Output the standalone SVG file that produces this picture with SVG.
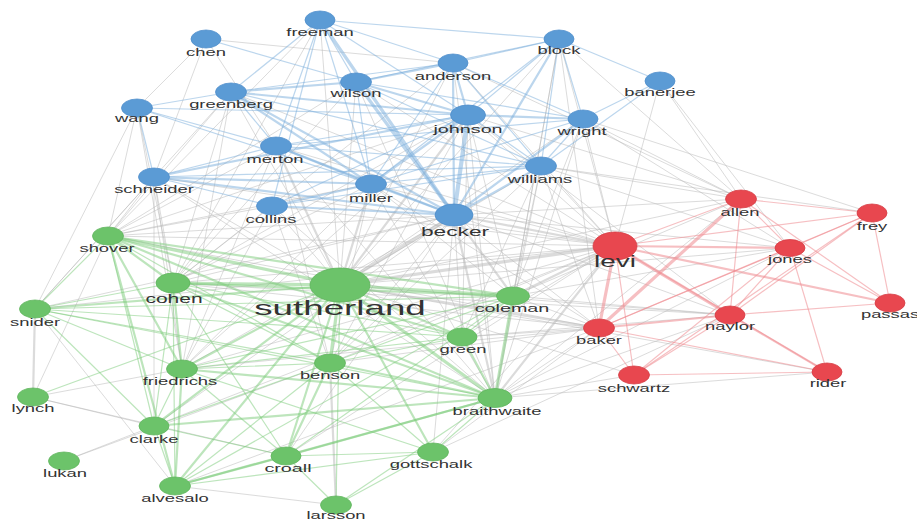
<svg xmlns="http://www.w3.org/2000/svg" width="917" height="521" viewBox="0 0 917 521">
<style>
text{font-family:"Liberation Sans",Arial,sans-serif;font-size:10.5px;fill:#333;text-anchor:middle}
.t12{font-size:12px}.t11{font-size:11.3px}.t13{font-size:13px}.t16{font-size:16px}.t21{font-size:21px}
line{fill:none;stroke-linecap:round}
.x{stroke:#b8b8b8;stroke-opacity:.5;stroke-width:1}
.b{stroke:#7aaedc;stroke-opacity:.5;stroke-width:1.2}
.r{stroke:#ee8a90;stroke-opacity:.55;stroke-width:1.2}
.g{stroke:#7ccb79;stroke-opacity:.5;stroke-width:1.2}
.w2{stroke-width:2.2}.w3{stroke-width:3.2}.w4{stroke-width:4.2}
.nb{fill:#5b9bd5;stroke:#4f8ecb;stroke-width:.8}
.nr{fill:#e8474f;stroke:#d63c44;stroke-width:.8}
.ng{fill:#6cc36a;stroke:#5fb55d;stroke-width:.8}
</style>
<rect width="917" height="521" fill="#fff"/>
<g id="connectors">
<g id="gray">
<line class="x w3" x1="454" y1="215" x2="340" y2="285"/>
<line class="x" x1="454" y1="215" x2="173" y2="283"/>
<line class="x" x1="454" y1="215" x2="108" y2="236"/>
<line class="x w2" x1="454" y1="215" x2="495" y2="398"/>
<line class="x" x1="454" y1="215" x2="330" y2="363"/>
<line class="x w2" x1="454" y1="215" x2="513" y2="296"/>
<line class="x" x1="454" y1="215" x2="462" y2="337"/>
<line class="x" x1="454" y1="215" x2="182" y2="369"/>
<line class="x" x1="454" y1="215" x2="433" y2="452"/>
<line class="x" x1="454" y1="215" x2="35" y2="309"/>
<line class="x" x1="454" y1="215" x2="286" y2="456"/>
<line class="x" x1="454" y1="215" x2="154" y2="426"/>
<line class="x w2" x1="371" y1="184" x2="340" y2="285"/>
<line class="x" x1="371" y1="184" x2="173" y2="283"/>
<line class="x" x1="371" y1="184" x2="108" y2="236"/>
<line class="x" x1="371" y1="184" x2="495" y2="398"/>
<line class="x" x1="371" y1="184" x2="330" y2="363"/>
<line class="x" x1="371" y1="184" x2="182" y2="369"/>
<line class="x" x1="371" y1="184" x2="513" y2="296"/>
<line class="x w2" x1="276" y1="146" x2="340" y2="285"/>
<line class="x" x1="276" y1="146" x2="173" y2="283"/>
<line class="x" x1="276" y1="146" x2="108" y2="236"/>
<line class="x" x1="276" y1="146" x2="495" y2="398"/>
<line class="x" x1="276" y1="146" x2="182" y2="369"/>
<line class="x" x1="276" y1="146" x2="330" y2="363"/>
<line class="x w2" x1="468" y1="115" x2="340" y2="285"/>
<line class="x" x1="468" y1="115" x2="173" y2="283"/>
<line class="x" x1="468" y1="115" x2="108" y2="236"/>
<line class="x" x1="468" y1="115" x2="495" y2="398"/>
<line class="x" x1="468" y1="115" x2="330" y2="363"/>
<line class="x" x1="468" y1="115" x2="513" y2="296"/>
<line class="x" x1="468" y1="115" x2="462" y2="337"/>
<line class="x" x1="468" y1="115" x2="182" y2="369"/>
<line class="x" x1="154" y1="177" x2="108" y2="236"/>
<line class="x" x1="154" y1="177" x2="173" y2="283"/>
<line class="x" x1="154" y1="177" x2="340" y2="285"/>
<line class="x" x1="154" y1="177" x2="35" y2="309"/>
<line class="x" x1="154" y1="177" x2="182" y2="369"/>
<line class="x" x1="154" y1="177" x2="154" y2="426"/>
<line class="x" x1="154" y1="177" x2="495" y2="398"/>
<line class="x" x1="272" y1="206" x2="340" y2="285"/>
<line class="x" x1="272" y1="206" x2="173" y2="283"/>
<line class="x" x1="272" y1="206" x2="108" y2="236"/>
<line class="x" x1="272" y1="206" x2="330" y2="363"/>
<line class="x" x1="272" y1="206" x2="495" y2="398"/>
<line class="x" x1="272" y1="206" x2="182" y2="369"/>
<line class="x" x1="356" y1="82" x2="340" y2="285"/>
<line class="x" x1="356" y1="82" x2="173" y2="283"/>
<line class="x" x1="356" y1="82" x2="108" y2="236"/>
<line class="x" x1="356" y1="82" x2="495" y2="398"/>
<line class="x" x1="231" y1="92" x2="340" y2="285"/>
<line class="x" x1="231" y1="92" x2="108" y2="236"/>
<line class="x" x1="231" y1="92" x2="173" y2="283"/>
<line class="x" x1="231" y1="92" x2="182" y2="369"/>
<line class="x" x1="231" y1="92" x2="35" y2="309"/>
<line class="x" x1="137" y1="108" x2="108" y2="236"/>
<line class="x" x1="137" y1="108" x2="35" y2="309"/>
<line class="x" x1="137" y1="108" x2="173" y2="283"/>
<line class="x" x1="137" y1="108" x2="182" y2="369"/>
<line class="x" x1="206" y1="39" x2="154" y2="177"/>
<line class="x" x1="206" y1="39" x2="276" y2="146"/>
<line class="x" x1="206" y1="39" x2="137" y2="108"/>
<line class="x" x1="206" y1="39" x2="453" y2="63"/>
<line class="x" x1="453" y1="63" x2="340" y2="285"/>
<line class="x" x1="453" y1="63" x2="173" y2="283"/>
<line class="x" x1="453" y1="63" x2="495" y2="398"/>
<line class="x" x1="541" y1="166" x2="340" y2="285"/>
<line class="x" x1="541" y1="166" x2="495" y2="398"/>
<line class="x" x1="541" y1="166" x2="513" y2="296"/>
<line class="x" x1="541" y1="166" x2="330" y2="363"/>
<line class="x" x1="541" y1="166" x2="462" y2="337"/>
<line class="x" x1="583" y1="119" x2="340" y2="285"/>
<line class="x" x1="583" y1="119" x2="495" y2="398"/>
<line class="x" x1="583" y1="119" x2="513" y2="296"/>
<line class="x" x1="559" y1="39" x2="340" y2="285"/>
<line class="x" x1="559" y1="39" x2="513" y2="296"/>
<line class="x" x1="559" y1="39" x2="495" y2="398"/>
<line class="x" x1="320" y1="20" x2="340" y2="285"/>
<line class="x" x1="320" y1="20" x2="173" y2="283"/>
<line class="x" x1="320" y1="20" x2="108" y2="236"/>
<line class="x w2" x1="454" y1="215" x2="615" y2="246"/>
<line class="x" x1="454" y1="215" x2="599" y2="328"/>
<line class="x" x1="454" y1="215" x2="730" y2="315"/>
<line class="x" x1="454" y1="215" x2="741" y2="199"/>
<line class="x" x1="454" y1="215" x2="790" y2="248"/>
<line class="x" x1="468" y1="115" x2="615" y2="246"/>
<line class="x" x1="468" y1="115" x2="741" y2="199"/>
<line class="x" x1="468" y1="115" x2="730" y2="315"/>
<line class="x" x1="541" y1="166" x2="615" y2="246"/>
<line class="x" x1="541" y1="166" x2="741" y2="199"/>
<line class="x" x1="541" y1="166" x2="790" y2="248"/>
<line class="x" x1="541" y1="166" x2="872" y2="213"/>
<line class="x" x1="541" y1="166" x2="599" y2="328"/>
<line class="x" x1="583" y1="119" x2="615" y2="246"/>
<line class="x" x1="583" y1="119" x2="741" y2="199"/>
<line class="x" x1="583" y1="119" x2="872" y2="213"/>
<line class="x" x1="583" y1="119" x2="790" y2="248"/>
<line class="x" x1="559" y1="39" x2="615" y2="246"/>
<line class="x" x1="559" y1="39" x2="741" y2="199"/>
<line class="x" x1="559" y1="39" x2="599" y2="328"/>
<line class="x" x1="660" y1="81" x2="741" y2="199"/>
<line class="x" x1="660" y1="81" x2="615" y2="246"/>
<line class="x" x1="660" y1="81" x2="790" y2="248"/>
<line class="x" x1="453" y1="63" x2="615" y2="246"/>
<line class="x" x1="453" y1="63" x2="741" y2="199"/>
<line class="x" x1="371" y1="184" x2="615" y2="246"/>
<line class="x" x1="371" y1="184" x2="599" y2="328"/>
<line class="x" x1="276" y1="146" x2="615" y2="246"/>
<line class="x" x1="356" y1="82" x2="615" y2="246"/>
<line class="x" x1="154" y1="177" x2="615" y2="246"/>
<line class="x" x1="272" y1="206" x2="615" y2="246"/>
<line class="x" x1="231" y1="92" x2="615" y2="246"/>
<line class="x w3" x1="340" y1="285" x2="615" y2="246"/>
<line class="x w2" x1="340" y1="285" x2="599" y2="328"/>
<line class="x" x1="340" y1="285" x2="730" y2="315"/>
<line class="x" x1="340" y1="285" x2="741" y2="199"/>
<line class="x" x1="340" y1="285" x2="790" y2="248"/>
<line class="x" x1="340" y1="285" x2="634" y2="375"/>
<line class="x" x1="340" y1="285" x2="827" y2="372"/>
<line class="x" x1="173" y1="283" x2="615" y2="246"/>
<line class="x" x1="173" y1="283" x2="599" y2="328"/>
<line class="x" x1="173" y1="283" x2="730" y2="315"/>
<line class="x w2" x1="513" y1="296" x2="615" y2="246"/>
<line class="x" x1="513" y1="296" x2="599" y2="328"/>
<line class="x" x1="513" y1="296" x2="730" y2="315"/>
<line class="x" x1="513" y1="296" x2="741" y2="199"/>
<line class="x" x1="513" y1="296" x2="790" y2="248"/>
<line class="x" x1="462" y1="337" x2="615" y2="246"/>
<line class="x" x1="462" y1="337" x2="599" y2="328"/>
<line class="x" x1="462" y1="337" x2="730" y2="315"/>
<line class="x w2" x1="495" y1="398" x2="615" y2="246"/>
<line class="x" x1="495" y1="398" x2="599" y2="328"/>
<line class="x" x1="495" y1="398" x2="730" y2="315"/>
<line class="x" x1="495" y1="398" x2="634" y2="375"/>
<line class="x" x1="495" y1="398" x2="741" y2="199"/>
<line class="x" x1="495" y1="398" x2="790" y2="248"/>
<line class="x" x1="495" y1="398" x2="827" y2="372"/>
<line class="x" x1="330" y1="363" x2="615" y2="246"/>
<line class="x" x1="330" y1="363" x2="599" y2="328"/>
<line class="x" x1="108" y1="236" x2="615" y2="246"/>
<line class="x" x1="108" y1="236" x2="599" y2="328"/>
<line class="x" x1="182" y1="369" x2="615" y2="246"/>
<line class="x" x1="182" y1="369" x2="599" y2="328"/>
<line class="x" x1="433" y1="452" x2="615" y2="246"/>
<line class="x" x1="433" y1="452" x2="599" y2="328"/>
<line class="x" x1="433" y1="452" x2="730" y2="315"/>
<line class="x" x1="286" y1="456" x2="615" y2="246"/>
<line class="x" x1="35" y1="309" x2="615" y2="246"/>
<line class="x" x1="154" y1="426" x2="615" y2="246"/>
<line class="x" x1="175" y1="486" x2="599" y2="328"/>
<line class="x w2" x1="35" y1="309" x2="33" y2="397"/>
<line class="x" x1="64" y1="461" x2="154" y2="426"/>
<line class="x" x1="64" y1="461" x2="330" y2="363"/>
<line class="x" x1="33" y1="397" x2="182" y2="369"/>
<line class="x" x1="33" y1="397" x2="154" y2="426"/>
<line class="x" x1="108" y1="236" x2="33" y2="397"/>
<line class="x" x1="35" y1="309" x2="175" y2="486"/>
<line class="x w2" x1="330" y1="363" x2="336" y2="505"/>
<line class="x" x1="175" y1="486" x2="336" y2="505"/>
<line class="x" x1="33" y1="397" x2="286" y2="456"/>
</g>
<g id="blue-links">
<line class="b" x1="320" y1="20" x2="559" y2="39"/>
<line class="b" x1="320" y1="20" x2="356" y2="82"/>
<line class="b w3" x1="320" y1="20" x2="454" y2="215"/>
<line class="b" x1="320" y1="20" x2="276" y2="146"/>
<line class="b" x1="320" y1="20" x2="272" y2="206"/>
<line class="b" x1="320" y1="20" x2="231" y2="92"/>
<line class="b" x1="320" y1="20" x2="453" y2="63"/>
<line class="b" x1="320" y1="20" x2="371" y2="184"/>
<line class="b" x1="320" y1="20" x2="468" y2="115"/>
<line class="b" x1="206" y1="39" x2="356" y2="82"/>
<line class="b w2" x1="356" y1="82" x2="453" y2="63"/>
<line class="b w2" x1="356" y1="82" x2="468" y2="115"/>
<line class="b w3" x1="356" y1="82" x2="454" y2="215"/>
<line class="b w2" x1="356" y1="82" x2="231" y2="92"/>
<line class="b" x1="356" y1="82" x2="559" y2="39"/>
<line class="b" x1="356" y1="82" x2="583" y2="119"/>
<line class="b" x1="356" y1="82" x2="541" y2="166"/>
<line class="b" x1="356" y1="82" x2="371" y2="184"/>
<line class="b w2" x1="453" y1="63" x2="468" y2="115"/>
<line class="b w2" x1="453" y1="63" x2="454" y2="215"/>
<line class="b" x1="453" y1="63" x2="559" y2="39"/>
<line class="b" x1="453" y1="63" x2="583" y2="119"/>
<line class="b" x1="453" y1="63" x2="541" y2="166"/>
<line class="b" x1="453" y1="63" x2="231" y2="92"/>
<line class="b" x1="453" y1="63" x2="371" y2="184"/>
<line class="b" x1="231" y1="92" x2="137" y2="108"/>
<line class="b w2" x1="231" y1="92" x2="468" y2="115"/>
<line class="b w2" x1="231" y1="92" x2="371" y2="184"/>
<line class="b w2" x1="231" y1="92" x2="454" y2="215"/>
<line class="b" x1="231" y1="92" x2="276" y2="146"/>
<line class="b" x1="231" y1="92" x2="541" y2="166"/>
<line class="b" x1="137" y1="108" x2="154" y2="177"/>
<line class="b" x1="137" y1="108" x2="371" y2="184"/>
<line class="b" x1="137" y1="108" x2="276" y2="146"/>
<line class="b" x1="137" y1="108" x2="468" y2="115"/>
<line class="b w4" x1="468" y1="115" x2="454" y2="215"/>
<line class="b w2" x1="468" y1="115" x2="583" y2="119"/>
<line class="b" x1="468" y1="115" x2="541" y2="166"/>
<line class="b w2" x1="468" y1="115" x2="371" y2="184"/>
<line class="b" x1="468" y1="115" x2="276" y2="146"/>
<line class="b w2" x1="468" y1="115" x2="154" y2="177"/>
<line class="b" x1="468" y1="115" x2="559" y2="39"/>
<line class="b" x1="468" y1="115" x2="272" y2="206"/>
<line class="b w2" x1="276" y1="146" x2="371" y2="184"/>
<line class="b w2" x1="276" y1="146" x2="454" y2="215"/>
<line class="b" x1="276" y1="146" x2="541" y2="166"/>
<line class="b" x1="276" y1="146" x2="154" y2="177"/>
<line class="b" x1="276" y1="146" x2="583" y2="119"/>
<line class="b w2" x1="154" y1="177" x2="371" y2="184"/>
<line class="b w2" x1="154" y1="177" x2="454" y2="215"/>
<line class="b" x1="154" y1="177" x2="541" y2="166"/>
<line class="b" x1="154" y1="177" x2="272" y2="206"/>
<line class="b w2" x1="371" y1="184" x2="454" y2="215"/>
<line class="b w2" x1="371" y1="184" x2="272" y2="206"/>
<line class="b" x1="371" y1="184" x2="541" y2="166"/>
<line class="b" x1="371" y1="184" x2="583" y2="119"/>
<line class="b w2" x1="272" y1="206" x2="454" y2="215"/>
<line class="b" x1="272" y1="206" x2="541" y2="166"/>
<line class="b w2" x1="559" y1="39" x2="454" y2="215"/>
<line class="b" x1="559" y1="39" x2="541" y2="166"/>
<line class="b" x1="559" y1="39" x2="583" y2="119"/>
<line class="b" x1="559" y1="39" x2="660" y2="81"/>
<line class="b" x1="559" y1="39" x2="371" y2="184"/>
<line class="b w2" x1="583" y1="119" x2="454" y2="215"/>
<line class="b" x1="583" y1="119" x2="541" y2="166"/>
<line class="b" x1="583" y1="119" x2="660" y2="81"/>
<line class="b w2" x1="541" y1="166" x2="454" y2="215"/>
<line class="b" x1="660" y1="81" x2="541" y2="166"/>
</g>
<g id="red-links">
<line class="r" x1="615" y1="246" x2="741" y2="199"/>
<line class="r w2" x1="615" y1="246" x2="790" y2="248"/>
<line class="r w3" x1="615" y1="246" x2="730" y2="315"/>
<line class="r w3" x1="615" y1="246" x2="599" y2="328"/>
<line class="r" x1="615" y1="246" x2="634" y2="375"/>
<line class="r" x1="615" y1="246" x2="872" y2="213"/>
<line class="r w2" x1="615" y1="246" x2="890" y2="303"/>
<line class="r" x1="615" y1="246" x2="827" y2="372"/>
<line class="r w3" x1="599" y1="328" x2="741" y2="199"/>
<line class="r w2" x1="599" y1="328" x2="730" y2="315"/>
<line class="r" x1="599" y1="328" x2="790" y2="248"/>
<line class="r" x1="599" y1="328" x2="872" y2="213"/>
<line class="r" x1="599" y1="328" x2="634" y2="375"/>
<line class="r" x1="599" y1="328" x2="827" y2="372"/>
<line class="r w2" x1="730" y1="315" x2="827" y2="372"/>
<line class="r" x1="730" y1="315" x2="790" y2="248"/>
<line class="r" x1="730" y1="315" x2="890" y2="303"/>
<line class="r" x1="730" y1="315" x2="741" y2="199"/>
<line class="r" x1="730" y1="315" x2="872" y2="213"/>
<line class="r" x1="730" y1="315" x2="634" y2="375"/>
<line class="r" x1="741" y1="199" x2="872" y2="213"/>
<line class="r" x1="741" y1="199" x2="790" y2="248"/>
<line class="r" x1="741" y1="199" x2="890" y2="303"/>
<line class="r" x1="790" y1="248" x2="872" y2="213"/>
<line class="r" x1="790" y1="248" x2="827" y2="372"/>
<line class="r" x1="790" y1="248" x2="890" y2="303"/>
<line class="r" x1="634" y1="375" x2="827" y2="372"/>
<line class="r" x1="634" y1="375" x2="790" y2="248"/>
<line class="r" x1="872" y1="213" x2="890" y2="303"/>
<line class="r" x1="634" y1="375" x2="872" y2="213"/>
</g>
<g id="green-links">
<line class="g w3" x1="340" y1="285" x2="108" y2="236"/>
<line class="g w3" x1="340" y1="285" x2="173" y2="283"/>
<line class="g w2" x1="340" y1="285" x2="35" y2="309"/>
<line class="g w3" x1="340" y1="285" x2="513" y2="296"/>
<line class="g w2" x1="340" y1="285" x2="462" y2="337"/>
<line class="g w2" x1="340" y1="285" x2="182" y2="369"/>
<line class="g w3" x1="340" y1="285" x2="330" y2="363"/>
<line class="g w3" x1="340" y1="285" x2="495" y2="398"/>
<line class="g w2" x1="340" y1="285" x2="154" y2="426"/>
<line class="g w2" x1="340" y1="285" x2="286" y2="456"/>
<line class="g w2" x1="340" y1="285" x2="433" y2="452"/>
<line class="g w2" x1="340" y1="285" x2="175" y2="486"/>
<line class="g" x1="340" y1="285" x2="336" y2="505"/>
<line class="g" x1="340" y1="285" x2="33" y2="397"/>
<line class="g w2" x1="108" y1="236" x2="173" y2="283"/>
<line class="g" x1="108" y1="236" x2="35" y2="309"/>
<line class="g w2" x1="108" y1="236" x2="182" y2="369"/>
<line class="g" x1="108" y1="236" x2="154" y2="426"/>
<line class="g w2" x1="108" y1="236" x2="175" y2="486"/>
<line class="g w2" x1="108" y1="236" x2="495" y2="398"/>
<line class="g w2" x1="108" y1="236" x2="513" y2="296"/>
<line class="g" x1="108" y1="236" x2="330" y2="363"/>
<line class="g w2" x1="108" y1="236" x2="462" y2="337"/>
<line class="g" x1="173" y1="283" x2="35" y2="309"/>
<line class="g w2" x1="173" y1="283" x2="182" y2="369"/>
<line class="g w2" x1="173" y1="283" x2="495" y2="398"/>
<line class="g" x1="173" y1="283" x2="330" y2="363"/>
<line class="g" x1="173" y1="283" x2="175" y2="486"/>
<line class="g" x1="173" y1="283" x2="154" y2="426"/>
<line class="g w2" x1="173" y1="283" x2="513" y2="296"/>
<line class="g" x1="173" y1="283" x2="462" y2="337"/>
<line class="g" x1="173" y1="283" x2="286" y2="456"/>
<line class="g" x1="35" y1="309" x2="182" y2="369"/>
<line class="g" x1="35" y1="309" x2="495" y2="398"/>
<line class="g" x1="35" y1="309" x2="330" y2="363"/>
<line class="g" x1="35" y1="309" x2="462" y2="337"/>
<line class="g" x1="35" y1="309" x2="513" y2="296"/>
<line class="g" x1="35" y1="309" x2="154" y2="426"/>
<line class="g" x1="182" y1="369" x2="330" y2="363"/>
<line class="g w2" x1="182" y1="369" x2="495" y2="398"/>
<line class="g" x1="182" y1="369" x2="154" y2="426"/>
<line class="g w2" x1="182" y1="369" x2="175" y2="486"/>
<line class="g" x1="182" y1="369" x2="286" y2="456"/>
<line class="g" x1="182" y1="369" x2="513" y2="296"/>
<line class="g" x1="182" y1="369" x2="462" y2="337"/>
<line class="g" x1="182" y1="369" x2="433" y2="452"/>
<line class="g w2" x1="330" y1="363" x2="495" y2="398"/>
<line class="g w2" x1="330" y1="363" x2="286" y2="456"/>
<line class="g" x1="330" y1="363" x2="175" y2="486"/>
<line class="g" x1="330" y1="363" x2="462" y2="337"/>
<line class="g" x1="330" y1="363" x2="433" y2="452"/>
<line class="g" x1="330" y1="363" x2="154" y2="426"/>
<line class="g" x1="154" y1="426" x2="175" y2="486"/>
<line class="g" x1="154" y1="426" x2="286" y2="456"/>
<line class="g w2" x1="154" y1="426" x2="495" y2="398"/>
<line class="g w2" x1="175" y1="486" x2="286" y2="456"/>
<line class="g" x1="175" y1="486" x2="433" y2="452"/>
<line class="g w2" x1="175" y1="486" x2="495" y2="398"/>
<line class="g" x1="175" y1="486" x2="513" y2="296"/>
<line class="g w2" x1="286" y1="456" x2="495" y2="398"/>
<line class="g" x1="286" y1="456" x2="433" y2="452"/>
<line class="g" x1="286" y1="456" x2="336" y2="505"/>
<line class="g" x1="286" y1="456" x2="513" y2="296"/>
<line class="g" x1="433" y1="452" x2="495" y2="398"/>
<line class="g" x1="433" y1="452" x2="336" y2="505"/>
<line class="g w3" x1="513" y1="296" x2="495" y2="398"/>
<line class="g" x1="513" y1="296" x2="462" y2="337"/>
<line class="g" x1="513" y1="296" x2="330" y2="363"/>
<line class="g w2" x1="462" y1="337" x2="495" y2="398"/>
<line class="g" x1="336" y1="505" x2="495" y2="398"/>
</g>
</g>
<g id="nodes">
<g id="freeman"><ellipse class="nb" cx="320" cy="20" rx="15" ry="9"/><text transform="translate(320,36) scale(1.75,1)">freeman</text></g>
<g id="chen"><ellipse class="nb" cx="206" cy="39" rx="15" ry="9"/><text transform="translate(206,56) scale(1.75,1)">chen</text></g>
<g id="block"><ellipse class="nb" cx="559" cy="39" rx="15" ry="9"/><text transform="translate(559,54) scale(1.75,1)">block</text></g>
<g id="anderson"><ellipse class="nb" cx="453" cy="63" rx="15" ry="9"/><text transform="translate(453,80) scale(1.75,1)">anderson</text></g>
<g id="banerjee"><ellipse class="nb" cx="660" cy="81" rx="15" ry="9"/><text transform="translate(660,96) scale(1.75,1)">banerjee</text></g>
<g id="wilson"><ellipse class="nb" cx="356" cy="82" rx="15.5" ry="9"/><text transform="translate(356,97) scale(1.75,1)">wilson</text></g>
<g id="greenberg"><ellipse class="nb" cx="231" cy="92" rx="15.5" ry="9"/><text transform="translate(231,108) scale(1.75,1)">greenberg</text></g>
<g id="wang"><ellipse class="nb" cx="137" cy="108" rx="15.5" ry="9"/><text transform="translate(137,122) scale(1.75,1)">wang</text></g>
<g id="johnson"><ellipse class="nb" cx="468" cy="115" rx="17.5" ry="10"/><text class="t11" transform="translate(468,133) scale(1.75,1)">johnson</text></g>
<g id="wright"><ellipse class="nb" cx="583" cy="119" rx="15" ry="9"/><text transform="translate(582,135) scale(1.75,1)">wright</text></g>
<g id="merton"><ellipse class="nb" cx="276" cy="146" rx="15.5" ry="9"/><text transform="translate(275,163) scale(1.75,1)">merton</text></g>
<g id="williams"><ellipse class="nb" cx="541" cy="166" rx="15.5" ry="9"/><text transform="translate(540,183) scale(1.75,1)">williams</text></g>
<g id="schneider"><ellipse class="nb" cx="154" cy="177" rx="15.5" ry="9"/><text transform="translate(154,193) scale(1.75,1)">schneider</text></g>
<g id="miller"><ellipse class="nb" cx="371" cy="184" rx="15.5" ry="9"/><text transform="translate(371,202) scale(1.75,1)">miller</text></g>
<g id="collins"><ellipse class="nb" cx="272" cy="206" rx="15.5" ry="9"/><text transform="translate(271,223) scale(1.75,1)">collins</text></g>
<g id="becker"><ellipse class="nb" cx="454" cy="215" rx="19" ry="11"/><text class="t13" transform="translate(455,236) scale(1.75,1)">becker</text></g>
<g id="allen"><ellipse class="nr" cx="741" cy="199" rx="15.5" ry="9"/><text transform="translate(740,216) scale(1.75,1)">allen</text></g>
<g id="frey"><ellipse class="nr" cx="872" cy="213" rx="15" ry="9"/><text transform="translate(872,230) scale(1.75,1)">frey</text></g>
<g id="levi"><ellipse class="nr" cx="615" cy="246" rx="22" ry="14"/><text class="t16" transform="translate(615,267) scale(1.75,1)">levi</text></g>
<g id="jones"><ellipse class="nr" cx="790" cy="248" rx="15" ry="8.5"/><text transform="translate(790,263) scale(1.75,1)">jones</text></g>
<g id="passas"><ellipse class="nr" cx="890" cy="303" rx="15" ry="9"/><text transform="translate(890,318) scale(1.75,1)">passas</text></g>
<g id="naylor"><ellipse class="nr" cx="730" cy="315" rx="15" ry="9"/><text transform="translate(730,330) scale(1.75,1)">naylor</text></g>
<g id="baker"><ellipse class="nr" cx="599" cy="328" rx="15.5" ry="9"/><text transform="translate(599,344) scale(1.75,1)">baker</text></g>
<g id="schwartz"><ellipse class="nr" cx="634" cy="375" rx="15.5" ry="9"/><text transform="translate(634,392) scale(1.75,1)">schwartz</text></g>
<g id="rider"><ellipse class="nr" cx="827" cy="372" rx="15" ry="9"/><text transform="translate(828,387) scale(1.75,1)">rider</text></g>
<g id="shover"><ellipse class="ng" cx="108" cy="236" rx="15.5" ry="9"/><text transform="translate(107,252) scale(1.75,1)">shover</text></g>
<g id="sutherland"><ellipse class="ng" cx="340" cy="285" rx="30" ry="17"/><text class="t21" transform="translate(340,315) scale(1.75,1)">sutherland</text></g>
<g id="cohen"><ellipse class="ng" cx="173" cy="283" rx="17" ry="10"/><text class="t12" transform="translate(174,303) scale(1.75,1)">cohen</text></g>
<g id="coleman"><ellipse class="ng" cx="513" cy="296" rx="16.5" ry="9"/><text class="t11" transform="translate(512,312) scale(1.75,1)">coleman</text></g>
<g id="snider"><ellipse class="ng" cx="35" cy="309" rx="15.5" ry="9"/><text transform="translate(35,326) scale(1.75,1)">snider</text></g>
<g id="green"><ellipse class="ng" cx="462" cy="337" rx="15" ry="9"/><text transform="translate(463,353) scale(1.75,1)">green</text></g>
<g id="friedrichs"><ellipse class="ng" cx="182" cy="369" rx="15.5" ry="9"/><text transform="translate(180,385) scale(1.75,1)">friedrichs</text></g>
<g id="benson"><ellipse class="ng" cx="330" cy="363" rx="15.5" ry="9"/><text transform="translate(330,379) scale(1.75,1)">benson</text></g>
<g id="lynch"><ellipse class="ng" cx="33" cy="397" rx="15.5" ry="9"/><text transform="translate(33,412) scale(1.75,1)">lynch</text></g>
<g id="braithwaite"><ellipse class="ng" cx="495" cy="398" rx="17" ry="9.5"/><text transform="translate(497,415) scale(1.75,1)">braithwaite</text></g>
<g id="clarke"><ellipse class="ng" cx="154" cy="426" rx="15" ry="9"/><text transform="translate(154,443) scale(1.75,1)">clarke</text></g>
<g id="croall"><ellipse class="ng" cx="286" cy="456" rx="15" ry="9"/><text class="t11" transform="translate(288,472) scale(1.75,1)">croall</text></g>
<g id="gottschalk"><ellipse class="ng" cx="433" cy="452" rx="15.5" ry="9"/><text transform="translate(431,468) scale(1.75,1)">gottschalk</text></g>
<g id="lukan"><ellipse class="ng" cx="64" cy="461" rx="15.5" ry="9"/><text transform="translate(65,477) scale(1.75,1)">lukan</text></g>
<g id="alvesalo"><ellipse class="ng" cx="175" cy="486" rx="15.5" ry="9"/><text transform="translate(175,502) scale(1.75,1)">alvesalo</text></g>
<g id="larsson"><ellipse class="ng" cx="336" cy="505" rx="15.5" ry="9"/><text transform="translate(336,519) scale(1.75,1)">larsson</text></g>
</g>
</svg>
